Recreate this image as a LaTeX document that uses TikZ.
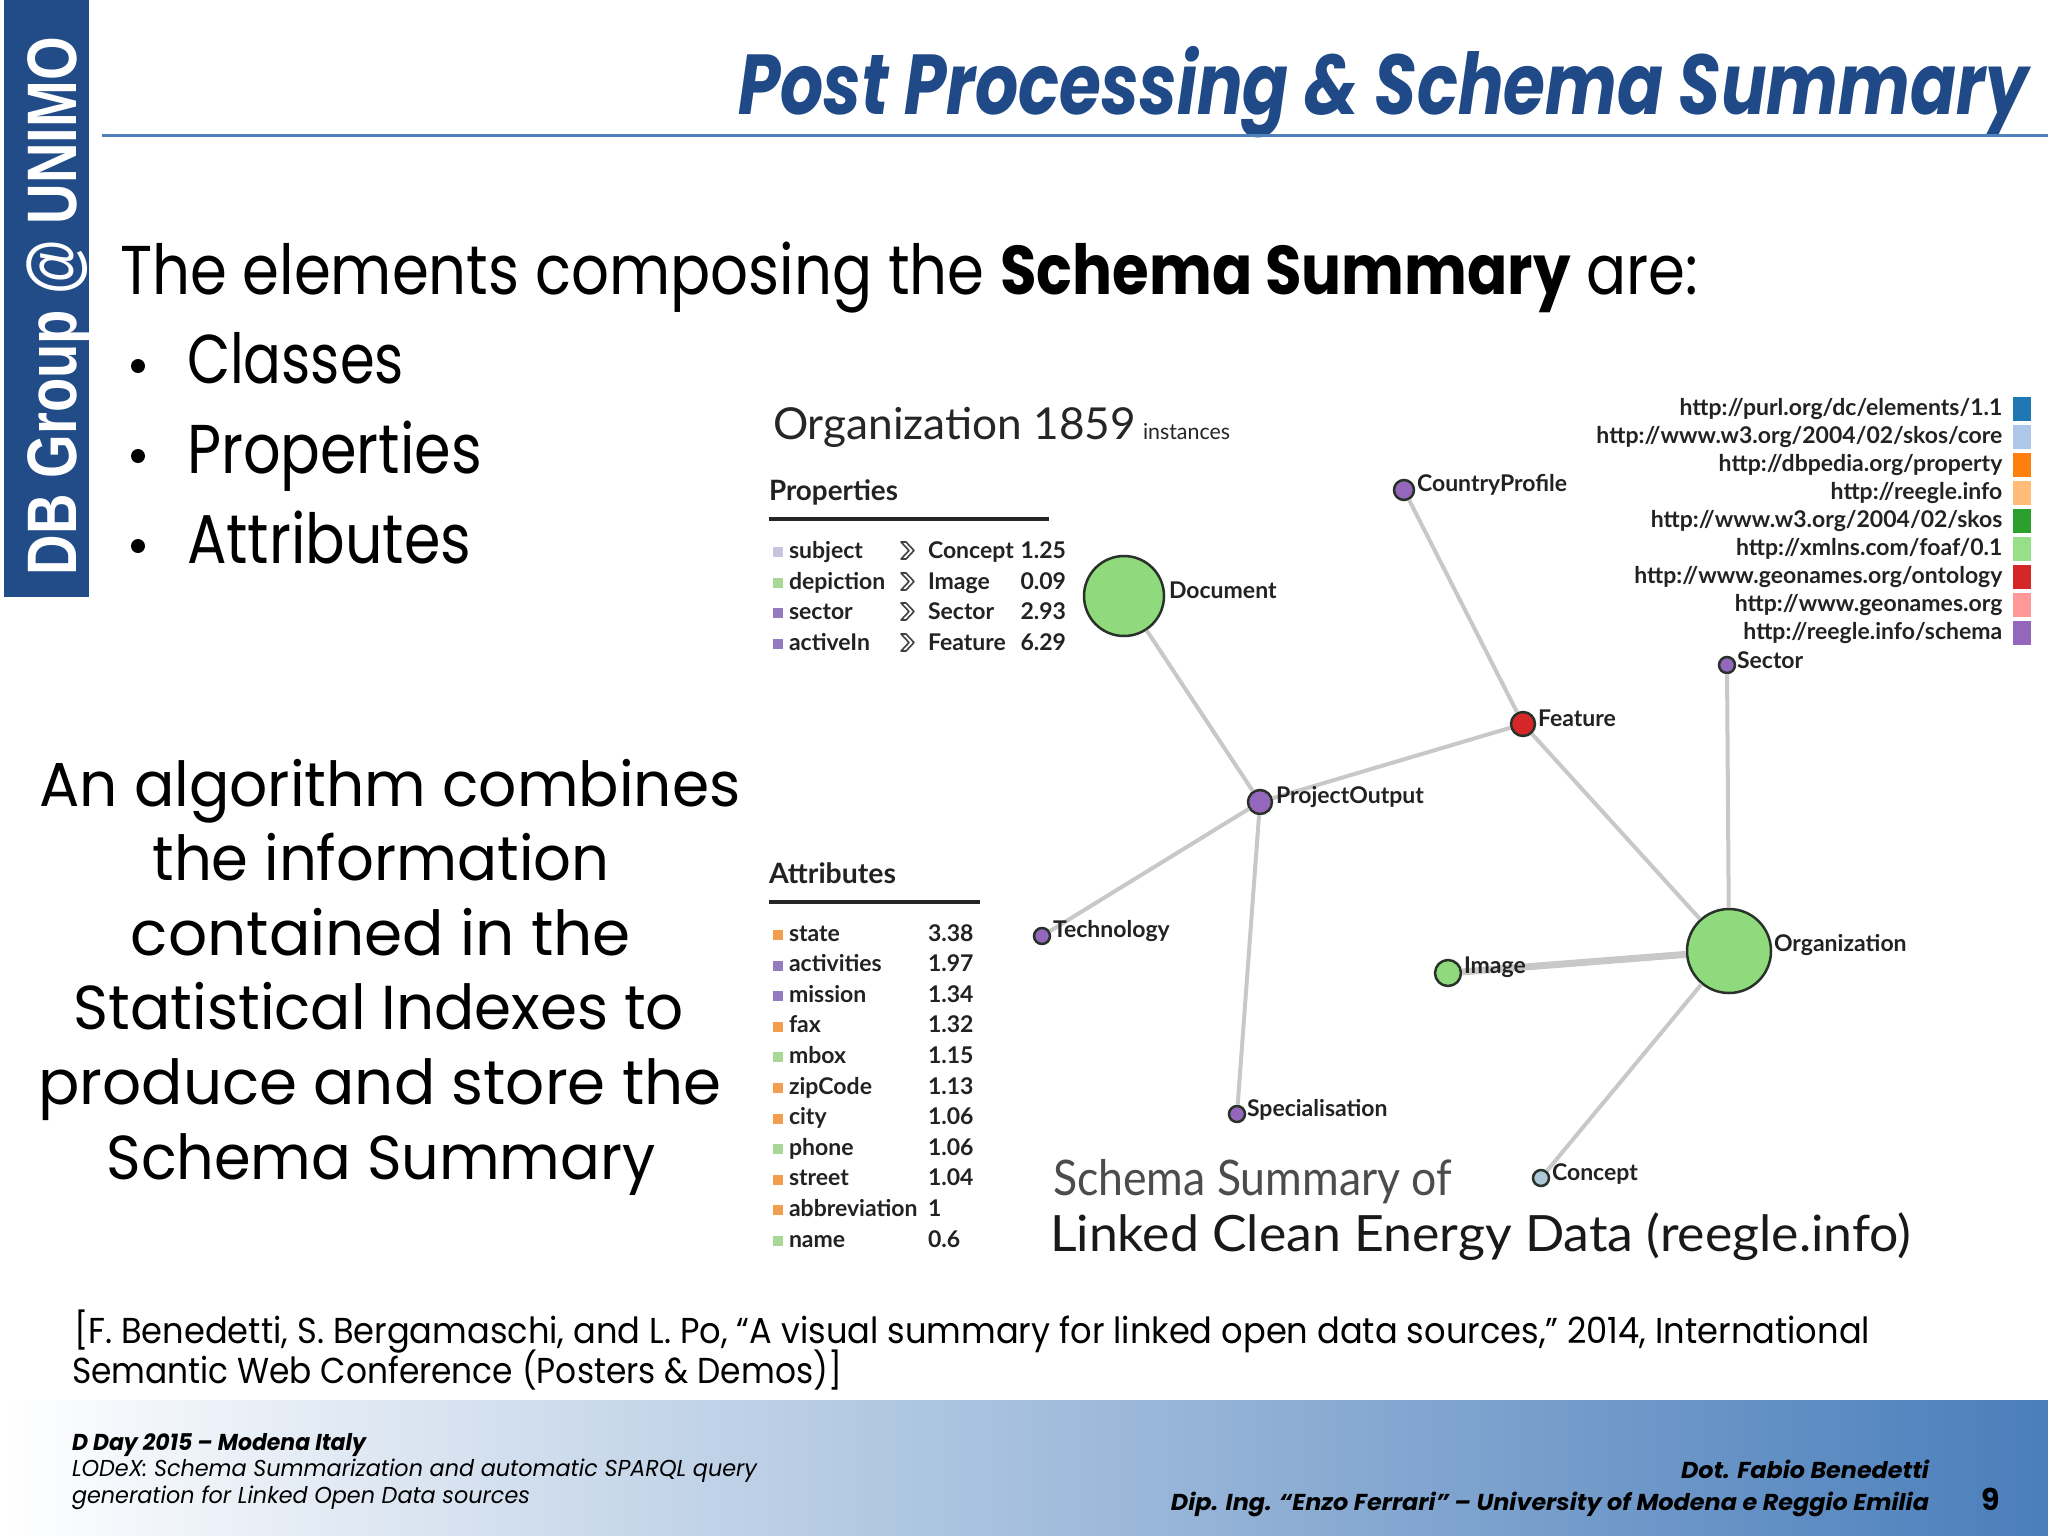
\documentclass[tikz,border=0pt]{standalone}
\usepackage{fontspec}
\setmainfont{Poppins}
\newfontfamily\lato{Lato}
\newfontfamily\arialb{Liberation Sans}
\usepackage{graphicx}
\newlength\pxu \setlength\pxu{0.01cm}
\newcommand\fpx[1]{\fontsize{\fpeval{#1*0.284528}}{\fpeval{#1*0.34}}\selectfont}
\newcommand\fitw[2]{\resizebox{#1\pxu}{\height}{#2}}
\definecolor{titleblue}{RGB}{31,73,135}
\definecolor{sidebar}{RGB}{33,76,136}
\definecolor{rulecol}{RGB}{79,129,189}
\definecolor{footblue}{RGB}{74,126,187}
\definecolor{lgreen}{RGB}{142,218,124}
\definecolor{gpurple}{RGB}{148,103,189}
\definecolor{gred}{RGB}{214,39,40}
\definecolor{gconcept}{RGB}{174,199,216}
\definecolor{nodeborder}{RGB}{40,50,40}
\definecolor{edgegray}{RGB}{200,200,200}
\definecolor{labelc}{RGB}{34,34,34}
\definecolor{subjcol}{RGB}{200,196,220}
\definecolor{attrorange}{RGB}{243,158,78}
\definecolor{attrgreen}{RGB}{168,216,152}
\definecolor{attrpurple}{RGB}{150,122,192}
\definecolor{lg1}{HTML}{1F77B4}
\definecolor{lg2}{HTML}{AEC7E8}
\definecolor{lg3}{HTML}{FF7F0E}
\definecolor{lg4}{HTML}{FFBB78}
\definecolor{lg5}{HTML}{2CA02C}
\definecolor{lg6}{HTML}{98DF8A}
\definecolor{lg7}{HTML}{D62728}
\definecolor{lg8}{HTML}{FF9896}
\definecolor{lg9}{HTML}{9467BD}
\tikzset{
  txt/.style={inner sep=0pt, outer sep=0pt, anchor=base west},
  gnode/.style={circle, draw=nodeborder, line width=2.5\pxu, inner sep=0pt},
  edge/.style={draw=edgegray, line width=4\pxu},
  glabel/.style={txt, font=\lato\bfseries\fpx{23}, text=labelc},
  small/.style={txt, font=\lato\bfseries\fpx{23}, text=labelc},
  lgtxt/.style={inner sep=0pt, anchor=base east, font=\lato\bfseries\fpx{23}, text=labelc},
  chev/.style={draw=black!75, line width=1.6\pxu, line join=round},
}
\begin{document}
\begin{tikzpicture}[x=0.01cm, y=-0.01cm]
\useasboundingbox (0,0) rectangle (2048,1536);
\fill[white] (0,0) rectangle (2048,1536);
% footer band
\shade[left color=white, right color=footblue] (0,1400) rectangle (2048,1536);
% sidebar
\fill[sidebar] (4,0) rectangle (89,597);
\node[inner sep=0pt, rotate=90, anchor=base, text=white] (side) at (77,306)
  {\arialb\bfseries\fpx{70}\fitw{538}{DB Group @ UNIMO}};
% title
\node[txt, text=titleblue] (title) at (738,114)
  {\fpx{85}\bfseries\itshape\fitw{1290}{Post Processing \& Schema Summary}};
\draw[rulecol, line width=3\pxu] (102,135) -- (2048,135);
% intro
\node[txt] (intro) at (120,294)
  {\fpx{69}\fitw{1578}{The elements composing the \textbf{Schema Summary} are:}};
\fill (138,366) circle (7);
\fill (138,456) circle (7);
\fill (138,546) circle (7);
\node[txt] (cls) at (187,383) {\fpx{69}\fitw{217}{Classes}};
\node[txt] (prp) at (187,473) {\fpx{69}\fitw{295}{Properties}};
\node[txt] (att) at (187,563) {\fpx{69}\fitw{284}{Attributes}};
% paragraph
\node[txt, anchor=base] (p1) at (390,806) {\fpx{62}\fitw{701}{An algorithm combines}};
\node[txt, anchor=base] (p2) at (381,880) {\fpx{62}\fitw{457}{the information}};
\node[txt, anchor=base] (p3) at (381,955) {\fpx{62}\fitw{500}{contained in the}};
\node[txt, anchor=base] (p4) at (379,1029) {\fpx{62}\fitw{610}{Statistical Indexes to}};
\node[txt, anchor=base] (p5) at (380,1104) {\fpx{62}\fitw{683}{produce and store the}};
\node[txt, anchor=base] (p6) at (381,1179) {\fpx{62}\fitw{549}{Schema Summary}};
% citation
\node[txt] (cit1) at (74,1343) {\fpx{36}\fitw{1796}{[F. Benedetti, S. Bergamaschi, and L. Po, “A visual summary for linked open data sources,” 2014, International}};
\node[txt] (cit2) at (72,1383) {\fpx{36}\fitw{770}{Semantic Web Conference (Posters \& Demos)]}};
% footer
\node[txt] (f1) at (72,1450) {\fpx{23}\bfseries\itshape\fitw{294}{D Day 2015 – Modena Italy}};
\node[txt] (f2) at (72,1476) {\fpx{23}\itshape\fitw{685}{LODeX: Schema Summarization and automatic SPARQL query}};
\node[txt] (f3) at (72,1503) {\fpx{23}\itshape\fitw{458}{generation for Linked Open Data sources}};
\node[txt, anchor=base east] (f4) at (1929,1478) {\fpx{23}\bfseries\itshape\fitw{248}{Dot. Fabio Benedetti}};
\node[txt, anchor=base east] (f5) at (1929,1510) {\fpx{23}\bfseries\itshape\fitw{758}{Dip. Ing. “Enzo Ferrari” – University of Modena e Reggio Emilia}};
\node[txt] (f6) at (1981,1510) {\fpx{30}\bfseries 9};
% ===== LODeX screenshot =====
\node[txt, text=black!85] (orgt) at (773,439) {\lato\fpx{44}\fitw{363}{Organization 1859}};
\node[txt, text=black!85] (inst) at (1143,439) {\lato\fpx{22}\fitw{87}{instances}};
\node[txt, text=labelc] (proph) at (769,500) {\lato\bfseries\fpx{28}\fitw{129}{Properties}};
\draw[black!85, line width=4\pxu] (769,519) -- (1049,519);
\node[txt, text=labelc] (attrh) at (769,883) {\lato\bfseries\fpx{28}\fitw{127}{Attributes}};
\draw[black!85, line width=4\pxu] (769,902) -- (980,902);
% properties rows
\foreach \b/\nm/\tg/\v/\c in {558/subject/Concept/1.25/subjcol, 589/depiction/Image/0.09/attrgreen, 619/sector/Sector/2.93/attrpurple, 650/activeIn/Feature/6.29/attrpurple}{
  \fill[\c] (773,\b-11) rectangle (783,\b-1);
  \node[small] at (789,\b) {\nm};
  \draw[chev] (901,\b-16) -- (906,\b-16) -- (914,\b-7.5) -- (906,\b+1) -- (901,\b+1) -- (909,\b-7.5) -- cycle;
  \node[small] at (928,\b) {\tg};
  \node[small, anchor=base east] at (1066,\b) {\v};
}
% attributes rows
\foreach \i/\nm/\v/\c in {0/state/3.38/attrorange, 1/activities/1.97/attrpurple, 2/mission/1.34/attrpurple, 3/fax/1.32/attrorange, 4/mbox/1.15/attrgreen, 5/zipCode/1.13/attrorange, 6/city/1.06/attrorange, 7/phone/1.06/attrgreen, 8/street/1.04/attrorange, 9/abbreviation/1/attrorange, 10/name/0.6/attrgreen}{
  \pgfmathsetmacro\b{941+30.6*\i}
  \fill[\c] (773,\b-11) rectangle (783,\b-1);
  \node[small] at (789,\b) {\nm};
  \node[small] at (928,\b) {\v};
}
% legend
\foreach \i/\t/\c in {0/{http://purl.org/dc/elements/1.1}/lg1, 1/{http://www.w3.org/2004/02/skos/core}/lg2, 2/{http://dbpedia.org/property}/lg3, 3/{http://reegle.info}/lg4, 4/{http://www.w3.org/2004/02/skos}/lg5, 5/{http://xmlns.com/foaf/0.1}/lg6, 6/{http://www.geonames.org/ontology}/lg7, 7/{http://www.geonames.org}/lg8, 8/{http://reegle.info/schema}/lg9}{
  \pgfmathsetmacro\b{415+28*\i}
  \node[lgtxt] at (2003,\b) {\t};
  \fill[\c] (2013,\b-18) rectangle (2031,\b+6);
}
% graph nodes
\node[gnode, fill=lgreen, minimum size=80\pxu] (doc) at (1124,596) {};
\node[gnode, fill=gpurple, minimum size=20\pxu] (cp) at (1404,490) {};
\node[gnode, fill=gred, minimum size=24\pxu] (feat) at (1523,724) {};
\node[gnode, fill=gpurple, minimum size=24\pxu] (po) at (1260,802) {};
\node[gnode, fill=gpurple, minimum size=16\pxu] (tech) at (1042,936) {};
\node[gnode, fill=lgreen, minimum size=26\pxu] (img) at (1448,973) {};
\node[gnode, fill=lgreen, minimum size=84\pxu] (org) at (1729,951) {};
\node[gnode, fill=gpurple, minimum size=16\pxu] (sec) at (1727,665) {};
\node[gnode, fill=gpurple, minimum size=16\pxu] (spec) at (1237,1114) {};
\node[gnode, fill=gconcept, minimum size=16\pxu] (conc) at (1541,1178) {};
% edges
\draw[edge] (doc) -- (po);
\draw[edge] (cp) -- (feat);
\draw[edge] (feat) -- (po);
\draw[edge] (feat) -- (org);
\draw[edge] (po) -- (tech);
\draw[edge] (po) -- (spec);
\draw[edge] (sec) -- (org);
\draw[edge, line width=7\pxu] (img) -- (org);
\draw[edge] (org) -- (conc);
% labels
\node[glabel] (docL) at (1169,598) {Document};
\node[glabel] (cpL) at (1417,491) {CountryProfile};
\node[glabel] (featL) at (1538,726) {Feature};
\node[glabel] (poL) at (1276,803) {ProjectOutput};
\node[glabel] (techL) at (1053,937) {Technology};
\node[glabel] (imgL) at (1464,973) {Image};
\node[glabel] (orgL) at (1774,951) {Organization};
\node[glabel] (secL) at (1737,668) {Sector};
\node[glabel] (specL) at (1247,1116) {Specialisation};
\node[glabel] (concL) at (1552,1180) {Concept};
% caption
\node[txt, text=black!70] (cap1) at (1053,1195) {\lato\fpx{49}\fitw{399}{Schema Summary of}};
\node[txt, text=black!90] (cap2) at (1050,1251) {\lato\fpx{50}\fitw{861}{Linked Clean Energy Data (reegle.info)}};
\end{tikzpicture}
\end{document}
